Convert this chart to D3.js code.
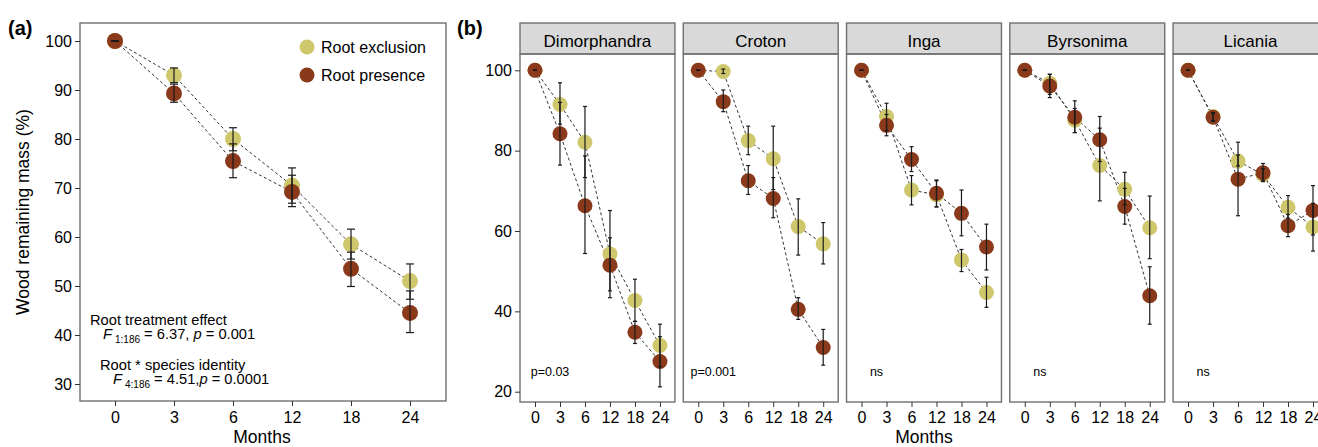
<!DOCTYPE html>
<html>
<head>
<meta charset="utf-8">
<script src="https://cdn.jsdelivr.net/npm/d3@7"></script>
<style>
  body { margin: 0; background: #fff; }
  svg { font-family: "Liberation Sans", Arial, sans-serif; display: block; }
</style>
</head>
<body>
<svg id="chart" width="1318" height="447"></svg>
<script>
// months sampled
const months = ["0", "3", "6", "12", "18", "24"];

// panel (a): all species pooled
const exclMeanA = [100, 93, 80, 70.5, 58.5, 51];
const exclLowA  = [100, 91.5, 77.6, 66.9, 55.5, 47.3];
const exclHighA = [100, 94.5, 82.3, 74.1, 61.6, 54.5];
const presMeanA = [100, 89.3, 75.5, 69.2, 53.5, 44.5];
const presLowA  = [100, 87.5, 72.1, 66.2, 49.9, 40.5];
const presHighA = [100, 91.2, 79.0, 72.6, 56.9, 49.0];

// panel (b): per species
const species = ["Dimorphandra", "Croton", "Inga", "Byrsonima", "Licania"];
const pLabels = ["p=0.03", "p=0.001", "ns", "ns", "ns"];

const exclMean = [
  [100, 91.5, 82.1, 54.3, 42.7, 31.5],
  [100, 99.7, 82.5, 78.0, 61.1, 56.8],
  [100, 88.5, 70.2, 69.0, 52.8, 44.7],
  [100, 96.8, 87.6, 76.3, 70.4, 60.8],
  [100, 88.5, 77.4, 74.0, 65.9, 61.0]
];
const exclLow = [
  [100, 86.6, 73.3, 43.4, 37.5, 26.2],
  [100, 99.2, 79.0, 70.3, 54.0, 51.8],
  [100, 85.0, 66.5, 66.0, 49.9, 41.0],
  [100, 94.0, 84.5, 67.5, 66.5, 53.1],
  [100, 87.5, 76.2, 72.5, 63.2, 55.0]
];
const exclHigh = [
  [100, 96.9, 91.0, 65.1, 48.0, 36.8],
  [100, 100.3, 86.1, 86.1, 68.0, 62.1],
  [100, 91.8, 73.8, 72.5, 55.4, 48.5],
  [100, 99.0, 90.5, 85.6, 74.6, 68.7],
  [100, 89.5, 78.9, 75.5, 68.8, 66.9]
];
const presMean = [
  [100, 84.2, 66.3, 51.5, 34.8, 27.5],
  [100, 92.2, 72.5, 68.1, 40.5, 31.0],
  [100, 86.3, 77.8, 69.4, 64.4, 56.0],
  [100, 96.1, 88.3, 82.7, 66.1, 43.9],
  [100, 88.3, 72.9, 74.5, 61.3, 65.1]
];
const presLow = [
  [100, 76.4, 54.4, 45.1, 32.0, 21.2],
  [100, 89.7, 69.1, 63.3, 38.0, 26.6],
  [100, 83.7, 74.8, 66.0, 58.8, 50.3],
  [100, 93.2, 84.5, 77.3, 61.7, 36.8],
  [100, 87.3, 63.8, 72.3, 58.6, 59.0]
];
const presHigh = [
  [100, 92.0, 78.7, 58.3, 37.5, 33.7],
  [100, 95.1, 76.3, 73.3, 43.4, 35.5],
  [100, 89.0, 81.0, 72.7, 70.2, 61.7],
  [100, 99.0, 92.4, 88.5, 70.6, 51.1],
  [100, 89.3, 82.1, 76.8, 64.1, 71.3]
];

const colExcl = "#cfc76c";
const colPres = "#8a3a1b";
const boxCol = "#707070";

const svg = d3.select("#chart");

// turn arrays into rows
function rows(mean, lo, hi) {
  return months.map((m, i) => ({ m: m, v: mean[i], lo: lo[i], hi: hi[i] }));
}

// draws both series into g with given scales
function drawSeries(g, x, y, series, r, capW) {
  const line = d3.line().x(d => x(d.m)).y(d => y(d.v));
  series.forEach(s => {
    g.append("path")
      .datum(s.data)
      .attr("d", line)
      .attr("fill", "none")
      .attr("stroke", "#333")
      .attr("stroke-width", 1)
      .attr("stroke-dasharray", "3,2.5");
  });
  series.forEach(s => {
    g.selectAll(null)
      .data(s.data)
      .enter()
      .append("circle")
      .attr("cx", d => x(d.m))
      .attr("cy", d => y(d.v))
      .attr("r", r)
      .attr("fill", s.color);
  });
  series.forEach(s => {
    const eb = g.selectAll(null)
      .data(s.data)
      .enter()
      .append("g")
      .attr("stroke", "#1a1a1a")
      .attr("stroke-width", 1.2);
    eb.append("line")
      .attr("x1", d => x(d.m)).attr("x2", d => x(d.m))
      .attr("y1", d => y(d.lo)).attr("y2", d => y(d.hi));
    eb.append("line")
      .attr("x1", d => x(d.m) - capW).attr("x2", d => x(d.m) + capW)
      .attr("y1", d => y(d.lo)).attr("y2", d => y(d.lo));
    eb.append("line")
      .attr("x1", d => x(d.m) - capW).attr("x2", d => x(d.m) + capW)
      .attr("y1", d => y(d.hi)).attr("y2", d => y(d.hi));
  });
}

function styleAxis(g, size) {
  g.select(".domain").remove();
  g.selectAll(".tick line").attr("stroke", "#333").attr("stroke-width", 1);
  g.selectAll(".tick text")
    .attr("fill", "#000")
    .attr("font-size", size + "px")
    .attr("font-family", "'Liberation Sans', Arial, sans-serif");
}

// ---------- panel (a) ----------
const boxA = { x0: 80, x1: 446, y0: 23, y1: 401 };

const xA = d3.scalePoint()
  .domain(months)
  .range([115, 410]);

const yA = d3.scaleLinear()
  .domain([30, 100])
  .range([384, 41]);

const gA = svg.append("g");

gA.append("rect")
  .attr("x", boxA.x0).attr("y", boxA.y0)
  .attr("width", boxA.x1 - boxA.x0).attr("height", boxA.y1 - boxA.y0)
  .attr("fill", "none").attr("stroke", boxCol).attr("stroke-width", 1.4);

gA.append("g")
  .attr("transform", `translate(${boxA.x0},0)`)
  .call(d3.axisLeft(yA).tickValues([30, 40, 50, 60, 70, 80, 90, 100]).tickSize(5).tickPadding(3))
  .call(g => styleAxis(g, 16));

gA.append("g")
  .attr("transform", `translate(0,${boxA.y1})`)
  .call(d3.axisBottom(xA).tickSize(5).tickPadding(6))
  .call(g => styleAxis(g, 16));

drawSeries(gA, xA, yA, [
  { color: colExcl, data: rows(exclMeanA, exclLowA, exclHighA) },
  { color: colPres, data: rows(presMeanA, presLowA, presHighA) }
], 8, 4);

// legend
const legend = gA.append("g").attr("transform", "translate(307,47)");
[["Root exclusion", colExcl], ["Root presence", colPres]].forEach((d, i) => {
  legend.append("circle").attr("cx", 0).attr("cy", i * 28).attr("r", 7.5).attr("fill", d[1]);
  legend.append("text").attr("x", 14).attr("y", i * 28 + 6)
    .attr("font-size", "16px").text(d[0]);
});

// statistics text
gA.append("text").attr("x", 90).attr("y", 325).attr("font-size", "14.7px").text("Root treatment effect");
const t2 = gA.append("text").attr("x", 103).attr("y", 339).attr("font-size", "14.7px");
t2.append("tspan").attr("font-style", "italic").text("F");
t2.append("tspan").attr("font-size", "10px").attr("dy", 4).attr("dx", 3).text("1:186");
t2.append("tspan").attr("dy", -4).text(" = 6.37, ");
t2.append("tspan").attr("font-style", "italic").text("p");
t2.append("tspan").text(" = 0.001");

gA.append("text").attr("x", 100).attr("y", 370).attr("font-size", "14.7px").text("Root * species identity");
const t4 = gA.append("text").attr("x", 113).attr("y", 384).attr("font-size", "14.7px");
t4.append("tspan").attr("font-style", "italic").text("F");
t4.append("tspan").attr("font-size", "10px").attr("dy", 4).attr("dx", 3).text("4:186");
t4.append("tspan").attr("dy", -4).text(" = 4.51,");
t4.append("tspan").attr("font-style", "italic").text("p");
t4.append("tspan").text(" = 0.0001");

// axis titles
svg.append("text")
  .attr("transform", "rotate(-90)")
  .attr("x", -212).attr("y", 29)
  .attr("text-anchor", "middle")
  .attr("font-size", "17.5px")
  .text("Wood remaining mass (%)");

svg.append("text")
  .attr("x", 262).attr("y", 443)
  .attr("text-anchor", "middle")
  .attr("font-size", "17.5px")
  .text("Months");

svg.append("text").attr("x", 8).attr("y", 35)
  .attr("font-size", "20px").attr("font-weight", "bold").text("(a)");

// ---------- panel (b) ----------
const stripTop = 23, panelTop = 54, panelBottom = 402;

const panelX = d3.scaleBand()
  .domain(species)
  .range([520, 1328])
  .paddingInner(0.051);

const xB = d3.scalePoint()
  .domain(months)
  .range([15, panelX.bandwidth() - 15]);

const yB = d3.scaleLinear()
  .domain([20, 100])
  .range([391.7, 70.3]);

species.forEach((sp, i) => {
  const g = svg.append("g").attr("transform", `translate(${panelX(sp)},0)`);
  const w = panelX.bandwidth();

  g.append("rect")
    .attr("x", 0).attr("y", stripTop)
    .attr("width", w).attr("height", panelTop - stripTop)
    .attr("fill", "#d9d9d9").attr("stroke", boxCol).attr("stroke-width", 1.4);

  g.append("text")
    .attr("x", w / 2).attr("y", 47)
    .attr("text-anchor", "middle")
    .attr("font-size", "17px")
    .text(sp);

  g.append("rect")
    .attr("x", 0).attr("y", panelTop)
    .attr("width", w).attr("height", panelBottom - panelTop)
    .attr("fill", "none").attr("stroke", boxCol).attr("stroke-width", 1.4);

  g.append("g")
    .attr("transform", `translate(0,${panelBottom})`)
    .call(d3.axisBottom(xB).tickSize(5).tickPadding(5))
    .call(a => styleAxis(a, 16));

  if (i === 0) {
    g.append("g")
      .call(d3.axisLeft(yB).tickValues([20, 40, 60, 80, 100]).tickSize(5).tickPadding(3))
      .call(a => styleAxis(a, 16));
  }

  drawSeries(g, xB, yB, [
    { color: colExcl, data: rows(exclMean[i], exclLow[i], exclHigh[i]) },
    { color: colPres, data: rows(presMean[i], presLow[i], presHigh[i]) }
  ], 7.5, 2);

  g.append("text")
    .attr("x", 30).attr("y", 376)
    .attr("text-anchor", "middle")
    .attr("font-size", "12.5px")
    .text(pLabels[i]);
});

svg.append("text")
  .attr("x", panelX("Inga") + panelX.bandwidth() / 2).attr("y", 443)
  .attr("text-anchor", "middle")
  .attr("font-size", "17.5px")
  .text("Months");

svg.append("text").attr("x", 457).attr("y", 35)
  .attr("font-size", "20px").attr("font-weight", "bold").text("(b)");
</script>
</body>
</html>
